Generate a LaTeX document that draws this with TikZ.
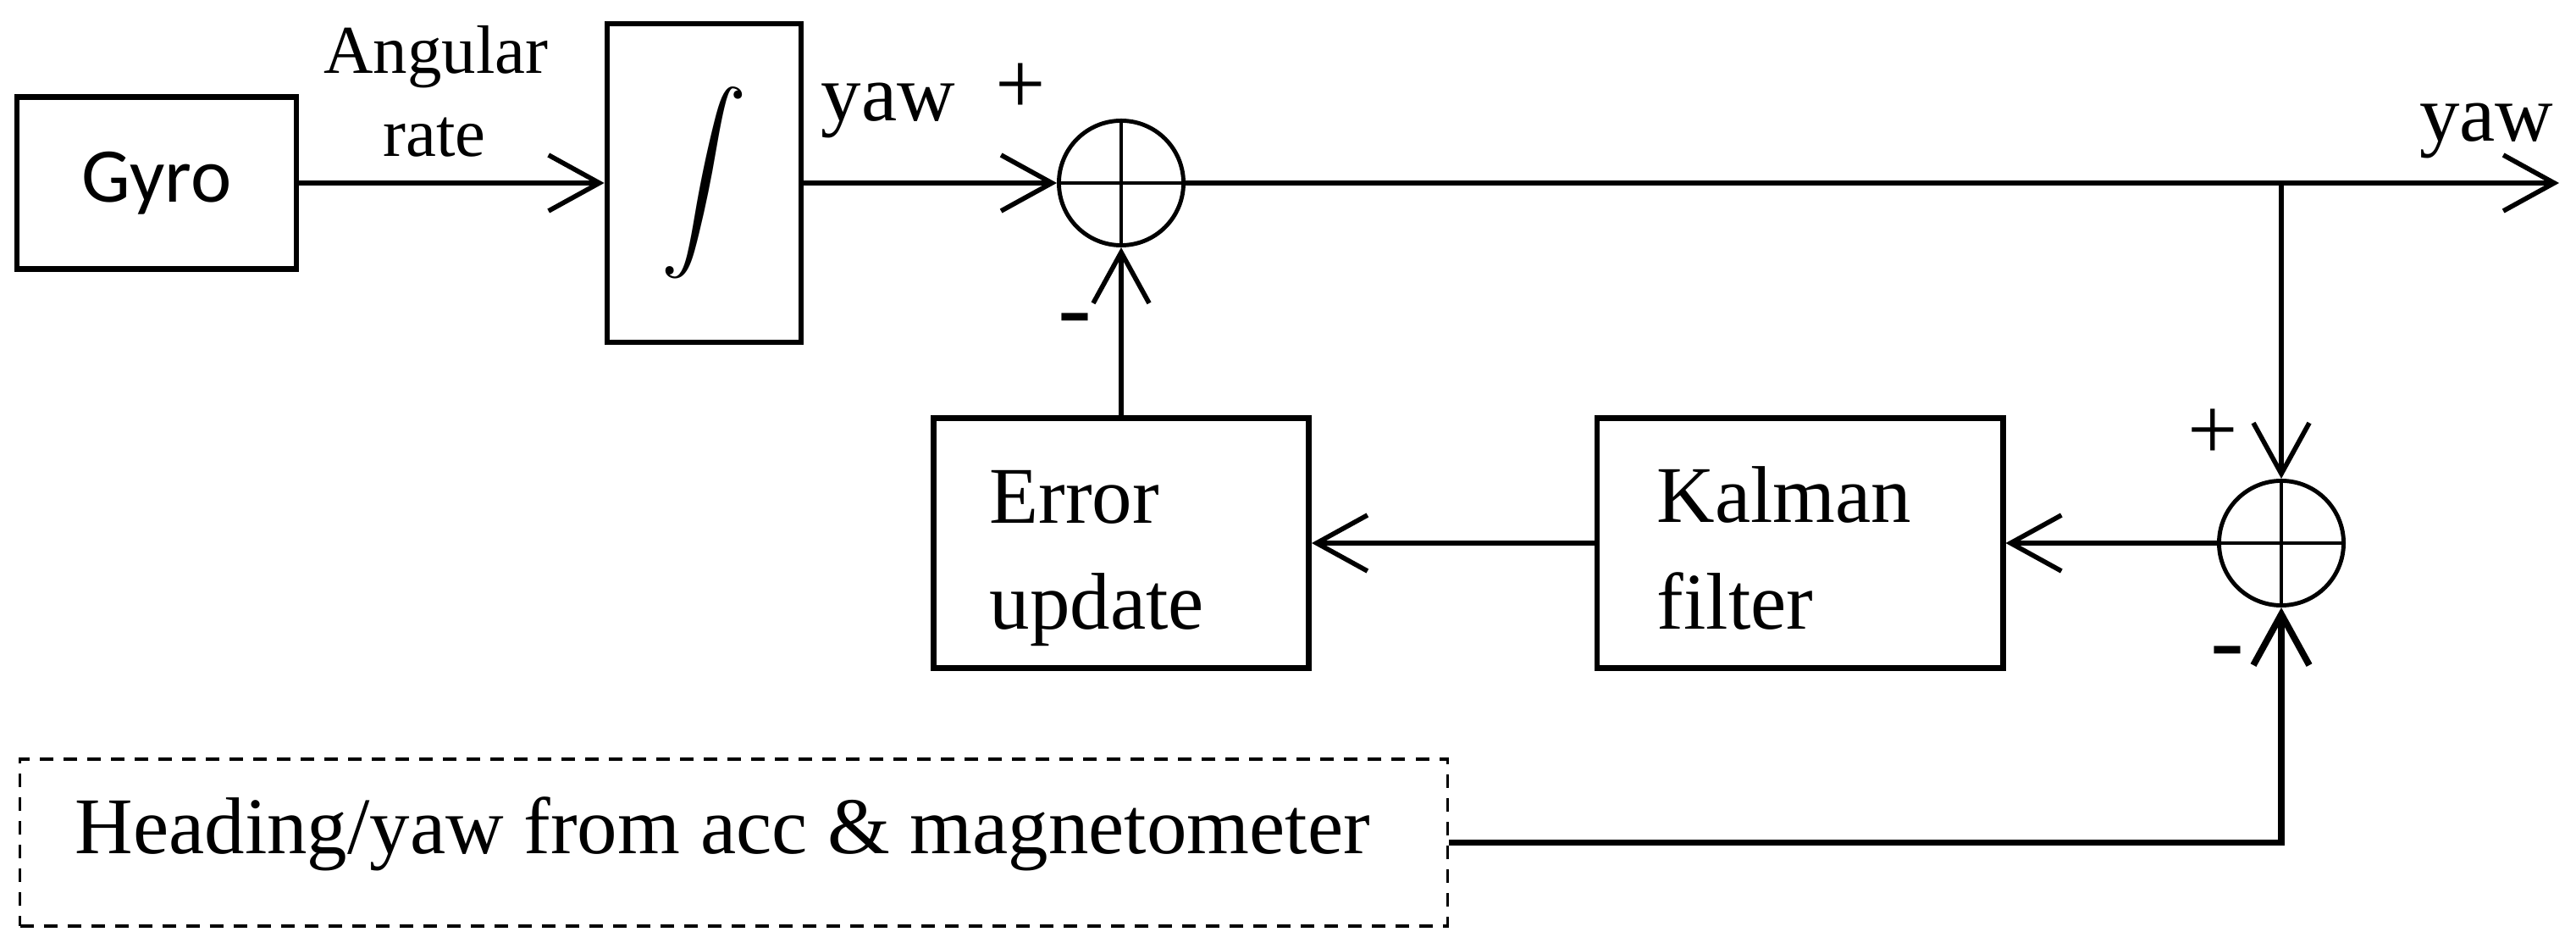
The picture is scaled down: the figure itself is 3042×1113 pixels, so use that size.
\documentclass[tikz,border=0pt]{standalone}
\usepackage{fontspec}
\setmainfont{Liberation Serif}
\newfontfamily\gyrofont{Carlito}
\usepackage{graphicx}
\usetikzlibrary{arrows.meta}
\tikzset{
  blk/.style={draw, rectangle, line width=1.9pt, inner sep=0pt},
  sumc/.style={draw, circle, line width=1.4pt, minimum size=1.47cm, inner sep=0pt,
    path picture={\draw[line width=1.4pt] (path picture bounding box.north) -- (path picture bounding box.south)
      (path picture bounding box.west) -- (path picture bounding box.east);}},
  conn/.style={line width=1.6pt},
  arr/.style={conn, -{Straight Barb[length=0.6cm,width=0.66cm]}},
  txt/.style={font=\fontsize{27}{35.5}\selectfont, inner sep=0pt},
  smalltxt/.style={font=\fontsize{23}{28}\selectfont, inner sep=0pt},
  plustxt/.style={font=\fontsize{30}{36}\selectfont, inner sep=0pt},
  signtxt/.style={font=\fontsize{34}{40}\selectfont, inner sep=0pt},
}
\begin{document}
\begin{tikzpicture}[x=0.01cm, y=-0.01cm]
\useasboundingbox (0,0) rectangle (3042,1113);
% blocks
\node[blk, minimum width=3.30cm, minimum height=2.03cm, font=\gyrofont\fontsize{26}{30}\selectfont] (gyro) at (185,216) {Gyro};
\node[blk, minimum width=2.29cm, minimum height=3.76cm] (int) at (831.5,216) {\scalebox{2.9}{$\displaystyle\int$}};
\node[sumc] (s1) at (1324,216) {};
\node[blk, minimum width=4.43cm, minimum height=2.95cm] (err) at (1324,641) {};
\node[blk, minimum width=4.79cm, minimum height=2.95cm] (kal) at (2125.5,641) {};
\node[sumc] (s2) at (2694,641) {};
\node[draw, rectangle, line width=1pt, dash pattern=on 0.16cm off 0.12cm, minimum width=16.85cm, minimum height=1.97cm, inner sep=0pt] (head) at (866.5,994.5) {};
% texts inside boxes
\node[txt, anchor=base west] (errt1) at (1168,618) {Error};
\node[txt, anchor=base west] (errt2) at (1168,743) {update};
\node[txt, anchor=base west] (kalt1) at (1956,617) {Kalman};
\node[txt, anchor=base west] (kalt2) at (1956,743) {filter};
\node[txt, anchor=base west] (headt) at (88,1007) {Heading/yaw from acc \& magnetometer};
% labels
\node[smalltxt, anchor=base] (ang1) at (515,87) {Angular};
\node[smalltxt, anchor=base] (ang2) at (513,185) {rate};
\node[txt, anchor=base west] (yaw1) at (969,143) {yaw};
\node[txt, anchor=base east] (yaw2) at (3016,167) {yaw};
\node[plustxt, anchor=base] (p1) at (1205,135) {+};
\node[plustxt, anchor=base] (p2) at (2613,543) {+};
\node[signtxt, anchor=base] (m1) at (1269,403) {-};
\node[signtxt, anchor=base] (m2) at (2630,795) {-};
% connectors
\coordinate (out) at (3022,216);
\coordinate (br) at (2694,216);
\draw[arr] (gyro) -- (int);
\draw[arr] (int) -- (s1);
\draw[arr] (s1) -- (out);
\draw[arr] (br) -- (s2);
\draw[arr] (s2) -- (kal);
\draw[arr] (kal) -- (err);
\draw[arr] (err) -- (s1);
\draw[arr, line width=2.2pt] (head.east) -| (s2.south);
\end{tikzpicture}
\end{document}
